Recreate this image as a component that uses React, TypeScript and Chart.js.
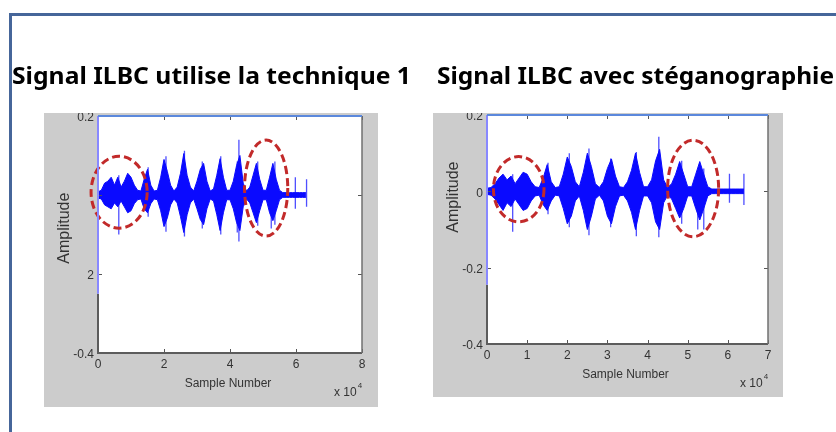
import React, { useEffect, useRef } from "react";
import { Chart, registerables } from "chart.js";

Chart.register(...registerables);

// ---------- text ----------
const titleLeft = "Signal ILBC utilise la technique 1";
const titleRight = "Signal ILBC avec stéganographie";
const xAxisTitle = "Sample Number";
const yAxisTitle = "Amplitude";
const xExponentBase = "x 10";
const xExponent = "4";

// ---------- sample positions (x 10^4 samples) ----------
const envelopeX = [
  0.0, 0.1, 0.2, 0.3, 0.4, 0.5, 0.6, 0.7, 0.8, 0.9,
  1.0, 1.1, 1.2, 1.3, 1.4, 1.5, 1.6, 1.7, 1.8, 1.9,
  2.0, 2.1, 2.2, 2.3, 2.4, 2.5, 2.6, 2.7, 2.8, 2.9,
  3.0, 3.1, 3.2, 3.3, 3.4, 3.5, 3.6, 3.7, 3.8, 3.9,
  4.0, 4.1, 4.2, 4.3, 4.4, 4.5, 4.6, 4.7, 4.8, 4.9,
  5.0, 5.1, 5.2, 5.3, 5.4, 5.5, 5.6, 5.7, 5.8, 5.9,
  6.0, 6.1, 6.2, 6.3, 6.4,
];

// ---------- left panel (technique 1) ----------
const leftUpper = [
  0.008, 0.012, 0.03, 0.035, 0.045, 0.025, 0.045, 0.02, 0.035, 0.055,
  0.045, 0.025, 0.012, 0.01, 0.04, 0.065, 0.025, 0.01, 0.012, 0.045,
  0.09, 0.06, 0.025, 0.01, 0.02, 0.055, 0.105, 0.05, 0.02, 0.01,
  0.035, 0.065, 0.08, 0.035, 0.01, 0.015, 0.05, 0.092, 0.045, 0.012,
  0.012, 0.035, 0.075, 0.1, 0.03, 0.01, 0.02, 0.05, 0.08, 0.04,
  0.012, 0.012, 0.045, 0.08, 0.04, 0.012, 0.006, 0.006, 0.006, 0.006,
  0.006, 0.006, 0.006, 0.006,
];
const leftLower = [
  -0.008, -0.01, -0.025, -0.03, -0.035, -0.02, -0.03, -0.015, -0.03, -0.045,
  -0.04, -0.022, -0.012, -0.01, -0.035, -0.045, -0.022, -0.01, -0.012, -0.04,
  -0.08, -0.058, -0.025, -0.01, -0.02, -0.055, -0.095, -0.05, -0.02, -0.01,
  -0.035, -0.062, -0.075, -0.035, -0.01, -0.015, -0.05, -0.09, -0.045, -0.012,
  -0.012, -0.035, -0.07, -0.09, -0.03, -0.01, -0.02, -0.045, -0.07, -0.04,
  -0.012, -0.012, -0.045, -0.065, -0.04, -0.012, -0.006, -0.006, -0.006, -0.006,
  -0.006, -0.006, -0.006, -0.006,
];
const leftSpikeX = [0.63, 1.52, 2.06, 2.62, 3.16, 3.72, 4.22, 4.27, 4.84, 5.25, 5.36, 5.98, 6.32];
const leftSpikeLow = [-0.1, -0.055, -0.093, -0.105, -0.085, -0.1, -0.095, -0.118, -0.078, -0.085, -0.075, -0.035, -0.03];
const leftSpikeHigh = [0.05, 0.07, 0.098, 0.112, 0.085, 0.098, 0.085, 0.14, 0.085, 0.04, 0.085, 0.045, 0.04];
const leftXTicks = [0, 2, 4, 6, 8];
const leftXTickLabels = ["0", "2", "4", "6", "8"];
const leftYTicks = [0.2, 0, -0.2, -0.4];
const leftYTickLabels = ["0.2", "", "2", "-0.4"];
const leftEllipseX = [[-0.21, 1.49], [4.44, 5.75]];
const leftEllipseY = [[-0.084, 0.098], [-0.104, 0.139]];

// ---------- right panel (stéganographie) ----------
const rightUpper = [
  0.008, 0.01, 0.02, 0.035, 0.045, 0.03, 0.04, 0.02, 0.035, 0.05,
  0.045, 0.025, 0.012, 0.01, 0.035, 0.07, 0.025, 0.01, 0.012, 0.045,
  0.09, 0.065, 0.025, 0.012, 0.05, 0.1, 0.065, 0.02, 0.01, 0.025,
  0.06, 0.085, 0.04, 0.012, 0.01, 0.025, 0.055, 0.1, 0.05, 0.012,
  0.012, 0.03, 0.08, 0.11, 0.03, 0.01, 0.02, 0.045, 0.078, 0.045,
  0.012, 0.012, 0.045, 0.078, 0.045, 0.012, 0.006, 0.006, 0.006, 0.006,
  0.006, 0.006, 0.006, 0.006, 0.006,
];
const rightLower = [
  -0.008, -0.01, -0.02, -0.035, -0.05, -0.03, -0.04, -0.02, -0.035, -0.05,
  -0.045, -0.025, -0.012, -0.01, -0.035, -0.05, -0.025, -0.01, -0.012, -0.045,
  -0.085, -0.065, -0.025, -0.012, -0.05, -0.1, -0.065, -0.02, -0.01, -0.025,
  -0.065, -0.085, -0.04, -0.012, -0.01, -0.025, -0.055, -0.1, -0.05, -0.012,
  -0.012, -0.03, -0.08, -0.1, -0.03, -0.01, -0.02, -0.045, -0.07, -0.045,
  -0.012, -0.012, -0.045, -0.075, -0.045, -0.012, -0.006, -0.006, -0.006, -0.006,
  -0.006, -0.006, -0.006, -0.006, -0.006,
];
const rightSpikeX = [0.64, 1.52, 2.05, 2.54, 3.08, 3.72, 4.28, 4.85, 5.25, 5.4, 6.04, 6.4];
const rightSpikeLow = [-0.106, -0.06, -0.094, -0.115, -0.094, -0.118, -0.12, -0.085, -0.1, -0.1, -0.03, -0.036];
const rightSpikeHigh = [0.045, 0.075, 0.1, 0.112, 0.086, 0.103, 0.143, 0.08, 0.05, 0.06, 0.046, 0.046];
const rightXTicks = [0, 1, 2, 3, 4, 5, 6, 7];
const rightXTickLabels = ["0", "1", "2", "3", "4", "5", "6", "7"];
const rightYTicks = [0.2, 0, -0.2, -0.4];
const rightYTickLabels = ["0.2", "0", "-0.2", "-0.4"];
const rightEllipseX = [[0.16, 1.42], [4.5, 5.77]];
const rightEllipseY = [[-0.08, 0.091], [-0.119, 0.134]];

const BLUE = "#0a0aff";
const FONT = '"Liberation Sans", Arial, sans-serif';

function envelope(vals: number[]) {
  return vals.map((v, i) => ({ x: envelopeX[i], y: v }));
}
function spikes(xs: number[], lo: number[], hi: number[]) {
  const out: any[] = [];
  xs.forEach((x, i) => {
    out.push({ x, y: lo[i] }, { x, y: hi[i] }, { x, y: null });
  });
  return out;
}

type PanelCfg = {
  upper: number[]; lower: number[];
  spikeX: number[]; spikeLow: number[]; spikeHigh: number[];
  xMax: number; xTicks: number[]; xTickLabels: string[];
  yTicks: number[]; yTickLabels: string[];
  ellipseX: number[][]; ellipseY: number[][];
  padding: { left: number; right: number; top: number; bottom: number };
  ampCenter: number; blueTo: number;
};

const leftCfg: PanelCfg = {
  upper: leftUpper, lower: leftLower,
  spikeX: leftSpikeX, spikeLow: leftSpikeLow, spikeHigh: leftSpikeHigh,
  xMax: 8, xTicks: leftXTicks, xTickLabels: leftXTickLabels,
  yTicks: leftYTicks, yTickLabels: leftYTickLabels,
  ellipseX: leftEllipseX, ellipseY: leftEllipseY,
  padding: { left: 54, right: 16, top: 3, bottom: 54 },
  ampCenter: -0.084, blueTo: -0.25,
};
const rightCfg: PanelCfg = {
  upper: rightUpper, lower: rightLower,
  spikeX: rightSpikeX, spikeLow: rightSpikeLow, spikeHigh: rightSpikeHigh,
  xMax: 7, xTicks: rightXTicks, xTickLabels: rightXTickLabels,
  yTicks: rightYTicks, yTickLabels: rightYTickLabels,
  ellipseX: rightEllipseX, ellipseY: rightEllipseY,
  padding: { left: 54, right: 15, top: 2, bottom: 53 },
  ampCenter: -0.015, blueTo: -0.245,
};

function makeAxesPlugin(cfg: PanelCfg) {
  return {
    id: "matlabAxes",
    beforeDraw(chart: any) {
      const { ctx, chartArea: a } = chart;
      ctx.save();
      ctx.fillStyle = "#cccccc";
      ctx.fillRect(0, 0, chart.width, chart.height);
      ctx.fillStyle = "#ffffff";
      ctx.fillRect(a.left, a.top, a.right - a.left, a.bottom - a.top);
      ctx.restore();
    },
    afterDatasetsDraw(chart: any) {
      const { ctx, chartArea: a } = chart;
      const xs = chart.scales.x;
      const ys = chart.scales.y;
      const line = (x0: number, y0: number, x1: number, y1: number) => {
        ctx.beginPath();
        ctx.moveTo(x0, y0);
        ctx.lineTo(x1, y1);
        ctx.stroke();
      };
      ctx.save();
      // ellipses
      ctx.strokeStyle = "#c22a2a";
      ctx.lineWidth = 3;
      ctx.setLineDash([8, 4]);
      cfg.ellipseX.forEach((ex, i) => {
        const ey = cfg.ellipseY[i];
        const x0 = xs.getPixelForValue(ex[0]);
        const x1 = xs.getPixelForValue(ex[1]);
        const y0 = ys.getPixelForValue(ey[0]);
        const y1 = ys.getPixelForValue(ey[1]);
        ctx.beginPath();
        ctx.ellipse((x0 + x1) / 2, (y0 + y1) / 2, Math.abs(x1 - x0) / 2, Math.abs(y1 - y0) / 2, 0, 0, Math.PI * 2);
        ctx.stroke();
      });
      ctx.setLineDash([]);
      // ticks
      ctx.strokeStyle = "#555";
      ctx.lineWidth = 1;
      cfg.xTicks.forEach((v) => {
        const px = Math.round(xs.getPixelForValue(v)) + 0.5;
        line(px, a.bottom, px, a.bottom - 4);
        line(px, a.top, px, a.top + 4);
      });
      cfg.yTicks.forEach((v) => {
        const py = Math.round(ys.getPixelForValue(v)) + 0.5;
        line(a.left, py, a.left + 4, py);
        line(a.right, py, a.right - 4, py);
      });
      // box
      ctx.strokeStyle = "#5c5c5c";
      ctx.lineWidth = 2;
      line(a.left, a.bottom, a.right, a.bottom);
      ctx.lineWidth = 1.5;
      ctx.strokeStyle = "#707070";
      line(a.right, a.top, a.right, a.bottom);
      ctx.lineWidth = 2;
      ctx.strokeStyle = "#5c5c5c";
      const yb = ys.getPixelForValue(cfg.blueTo);
      line(a.left, a.bottom + 1, a.left, yb);
      ctx.strokeStyle = "#8888ff";
      line(a.left, yb, a.left, a.top);
      ctx.strokeStyle = "#5b88dc";
      line(a.left, a.top, a.right, a.top);
      // tick labels
      ctx.fillStyle = "#333";
      ctx.font = `12px ${FONT}`;
      ctx.textAlign = "right";
      ctx.textBaseline = "middle";
      cfg.yTicks.forEach((v, i) => {
        ctx.fillText(cfg.yTickLabels[i], a.left - 4, ys.getPixelForValue(v) + 2);
      });
      ctx.textAlign = "center";
      cfg.xTicks.forEach((v, i) => {
        ctx.fillText(cfg.xTickLabels[i], xs.getPixelForValue(v), a.bottom + 12);
      });
      // axis titles
      ctx.font = `12px ${FONT}`;
      ctx.fillText(xAxisTitle, (a.left + a.right) / 2 - 2, a.bottom + 31);
      ctx.textAlign = "left";
      ctx.fillText(xExponentBase, a.right - 28, a.bottom + 40);
      const w = ctx.measureText(xExponentBase).width;
      ctx.font = `8px ${FONT}`;
      ctx.fillText(xExponent, a.right - 28 + w + 1, a.bottom + 33);
      ctx.save();
      ctx.font = `16px ${FONT}`;
      ctx.textAlign = "center";
      ctx.translate(a.left - 33, ys.getPixelForValue(cfg.ampCenter));
      ctx.rotate(-Math.PI / 2);
      ctx.fillText(yAxisTitle, 0, 0);
      ctx.restore();
      ctx.restore();
    },
  };
}

function buildConfig(cfg: PanelCfg): any {
  return {
    type: "line",
    data: {
      datasets: [
        { data: envelope(cfg.upper), borderColor: BLUE, borderWidth: 1, pointRadius: 0, fill: false, tension: 0 },
        { data: envelope(cfg.lower), borderColor: BLUE, borderWidth: 1, pointRadius: 0, fill: "-1", backgroundColor: BLUE, tension: 0 },
        { data: spikes(cfg.spikeX, cfg.spikeLow, cfg.spikeHigh), borderColor: "rgba(20,20,255,0.75)", borderWidth: 1.3, pointRadius: 0, fill: false, spanGaps: false },
      ],
    },
    options: {
      responsive: false,
      animation: false,
      devicePixelRatio: 1,
      layout: { padding: cfg.padding },
      plugins: { legend: { display: false }, tooltip: { enabled: false } },
      scales: {
        x: { type: "linear", min: 0, max: cfg.xMax, display: false },
        y: { type: "linear", min: -0.4, max: 0.2, display: false },
      },
    },
    plugins: [makeAxesPlugin(cfg)],
  };
}

function Panel({ cfg, left, top, width, height }: { cfg: PanelCfg; left: number; top: number; width: number; height: number }) {
  const ref = useRef<HTMLCanvasElement | null>(null);
  useEffect(() => {
    const chart = new Chart(ref.current as HTMLCanvasElement, buildConfig(cfg));
    return () => chart.destroy();
  }, []);
  return (
    <canvas ref={ref} width={width} height={height}
      style={{ position: "absolute", left, top, width, height, display: "block" }} />
  );
}

function Backdrop() {
  const ref = useRef<HTMLCanvasElement | null>(null);
  useEffect(() => {
    const c = ref.current as HTMLCanvasElement;
    const ctx = c.getContext("2d") as CanvasRenderingContext2D;
    ctx.clearRect(0, 0, 836, 432);
    ctx.fillStyle = "#fff";
    ctx.fillRect(0, 0, 836, 432);
    ctx.strokeStyle = "#46669a";
    ctx.lineWidth = 3;
    ctx.beginPath();
    ctx.moveTo(10.5, 432);
    ctx.lineTo(10.5, 14.5);
    ctx.lineTo(836, 14.5);
    ctx.stroke();
    const drawTitle = (text: string, x0: number, x1: number, base: number) => {
      ctx.save();
      ctx.font = 'bold 23px "Noto Sans", "Open Sans", sans-serif';
      const w = ctx.measureText(text).width;
      ctx.translate(x0, base);
      ctx.scale((x1 - x0) / w, 1);
      ctx.fillStyle = "#000";
      ctx.textBaseline = "alphabetic";
      ctx.fillText(text, 0, 0);
      ctx.restore();
    };
    drawTitle(titleLeft, 12, 411, 84);
    drawTitle(titleRight, 437, 834, 84);
  }, []);
  return <canvas ref={ref} width={836} height={432} style={{ position: "absolute", left: 0, top: 0, display: "block" }} />;
}

export default function App() {
  return (
    <div style={{ position: "absolute", left: 0, top: 0, width: 836, height: 432, overflow: "hidden", background: "#fff" }}>
      <Backdrop />
      <Panel cfg={leftCfg} left={44} top={113} width={334} height={294} />
      <Panel cfg={rightCfg} left={433} top={113} width={350} height={284} />
    </div>
  );
}
